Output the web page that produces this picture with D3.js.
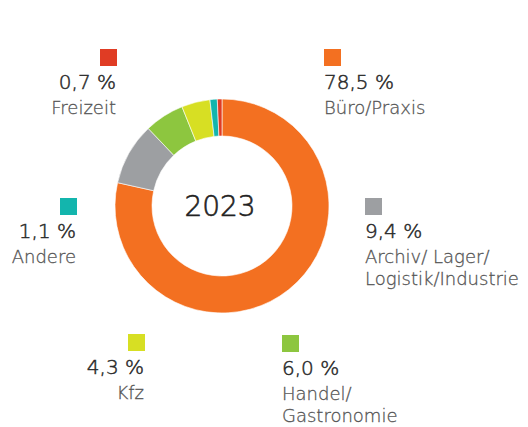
<!DOCTYPE html>
<html>
<head>
<meta charset="utf-8">
<script src="https://cdn.jsdelivr.net/npm/d3@7/dist/d3.min.js"></script>
<style>
  html, body { margin: 0; padding: 0; background: #fff; }
  svg { display: block; }
  text { font-family: "DejaVu Sans", Roboto, sans-serif; font-weight: 200; }
</style>
</head>
<body>
<svg id="chart" width="528" height="427"></svg>
<script>
// Flächenanteile 2023 nach Nutzungsart
const categories = ["Büro/Praxis", "Archiv/ Lager/\nLogistik/Industrie", "Handel/\nGastronomie", "Kfz", "Andere", "Freizeit"];
const values = [78.5, 9.4, 6.0, 4.3, 1.1, 0.7];
const colors = ["#F37021", "#9D9FA2", "#8DC63F", "#D7DF23", "#13B5AD", "#E03C24"];
const yearLabel = "2023";

// Legend placement: square top-left corner and text alignment for each category
const legendPos = [
  { x: 324, y: 49,  anchor: "start" },
  { x: 365, y: 198, anchor: "start" },
  { x: 282, y: 335, anchor: "start" },
  { x: 128, y: 334, anchor: "end" },
  { x: 60,  y: 198, anchor: "end" },
  { x: 100, y: 49,  anchor: "end" }
];

const svg = d3.select("#chart");
const cx = 222, cy = 206, rOuter = 107, rInner = 70;

const pie = d3.pie().sort(null).value(d => d)
  .startAngle(0).endAngle(2 * Math.PI);
const arc = d3.arc().innerRadius(rInner).outerRadius(rOuter);

const g = svg.append("g").attr("transform", `translate(${cx},${cy})`);
g.selectAll("path")
  .data(pie(values))
  .join("path")
  .attr("d", arc)
  .attr("fill", (d, i) => colors[i])
  .attr("stroke", "#fff")
  .attr("stroke-width", 0.6);

// Light type thickened slightly with a same-colour outline
const weighted = (sel, color, sw) =>
  sel.attr("fill", color).attr("stroke", color).attr("stroke-width", sw);

g.append("text")
  .attr("x", -2).attr("y", 10)
  .attr("text-anchor", "middle")
  .attr("font-size", 28)
  .call(weighted, "#222", 0.6)
  .text(yearLabel);

const fmt = v => d3.format(".1f")(v).replace(".", ",") + " %";
const sq = 17;

categories.forEach((cat, i) => {
  const p = legendPos[i];
  const tx = p.anchor === "end" ? p.x + sq - 1 : p.x;
  svg.append("rect")
    .attr("x", p.x).attr("y", p.y)
    .attr("width", sq).attr("height", sq)
    .attr("fill", colors[i]);
  svg.append("text")
    .attr("x", tx).attr("y", p.y + sq + 23)
    .attr("text-anchor", p.anchor)
    .attr("font-size", 20)
    .call(weighted, "#2b2b2b", 0.5)
    .text(fmt(values[i]));
  cat.split("\n").forEach((line, j) => {
    svg.append("text")
      .attr("x", tx).attr("y", p.y + sq + 48 + j * 22)
      .attr("text-anchor", p.anchor)
      .attr("font-size", 18)
      .call(weighted, "#555", 0.3)
      .text(line);
  });
});
</script>
</body>
</html>
